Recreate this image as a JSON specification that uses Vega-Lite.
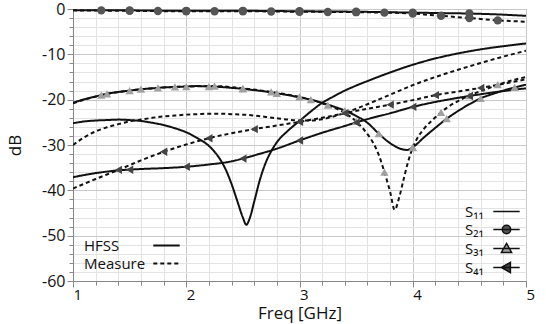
{
  "$schema": "https://vega.github.io/schema/vega-lite/v6.json",
  "width": 453,
  "height": 272,
  "autosize": {"type": "none"},
  "padding": {"left": 73, "top": 9, "right": 20, "bottom": 43},
  "background": "white",
  "config": {
    "font": "Open Sans",
    "view": {"stroke": "#999", "strokeWidth": 1},
    "axis": {"labelFont": "Open Sans", "titleFont": "Open Sans", "labelColor": "#111", "titleColor": "#111", "domainColor": "#888", "tickColor": "#888", "titleFontWeight": "normal", "labelOverlap": false}
  },
  "datasets": {
    "curves": [
      {"port":"S₁₁","src":"HFSS","f":1.0,"dB":-25.2},{"port":"S₁₁","src":"HFSS","f":1.1,"dB":-24.8},{"port":"S₁₁","src":"HFSS","f":1.2,"dB":-24.6},{"port":"S₁₁","src":"HFSS","f":1.3,"dB":-24.5},{"port":"S₁₁","src":"HFSS","f":1.4,"dB":-24.4},{"port":"S₁₁","src":"HFSS","f":1.5,"dB":-24.5},{"port":"S₁₁","src":"HFSS","f":1.6,"dB":-24.7},{"port":"S₁₁","src":"HFSS","f":1.7,"dB":-25.1},{"port":"S₁₁","src":"HFSS","f":1.8,"dB":-25.6},{"port":"S₁₁","src":"HFSS","f":1.9,"dB":-26.3},{"port":"S₁₁","src":"HFSS","f":2.0,"dB":-27.2},{"port":"S₁₁","src":"HFSS","f":2.1,"dB":-28.5},{"port":"S₁₁","src":"HFSS","f":2.2,"dB":-30.2},{"port":"S₁₁","src":"HFSS","f":2.25,"dB":-31.5},{"port":"S₁₁","src":"HFSS","f":2.3,"dB":-33.2},{"port":"S₁₁","src":"HFSS","f":2.35,"dB":-35.5},{"port":"S₁₁","src":"HFSS","f":2.4,"dB":-38.6},{"port":"S₁₁","src":"HFSS","f":2.45,"dB":-42.3},{"port":"S₁₁","src":"HFSS","f":2.5,"dB":-46.0},{"port":"S₁₁","src":"HFSS","f":2.53,"dB":-47.6},{"port":"S₁₁","src":"HFSS","f":2.56,"dB":-46.2},{"port":"S₁₁","src":"HFSS","f":2.6,"dB":-42.5},{"port":"S₁₁","src":"HFSS","f":2.65,"dB":-37.7},{"port":"S₁₁","src":"HFSS","f":2.7,"dB":-34.0},{"port":"S₁₁","src":"HFSS","f":2.75,"dB":-31.4},{"port":"S₁₁","src":"HFSS","f":2.8,"dB":-29.4},{"port":"S₁₁","src":"HFSS","f":2.9,"dB":-26.8},{"port":"S₁₁","src":"HFSS","f":3.0,"dB":-24.7},{"port":"S₁₁","src":"HFSS","f":3.1,"dB":-22.6},{"port":"S₁₁","src":"HFSS","f":3.2,"dB":-20.7},{"port":"S₁₁","src":"HFSS","f":3.3,"dB":-19.3},{"port":"S₁₁","src":"HFSS","f":3.4,"dB":-18.0},{"port":"S₁₁","src":"HFSS","f":3.5,"dB":-16.9},{"port":"S₁₁","src":"HFSS","f":3.6,"dB":-15.9},{"port":"S₁₁","src":"HFSS","f":3.8,"dB":-14.0},{"port":"S₁₁","src":"HFSS","f":4.0,"dB":-12.3},{"port":"S₁₁","src":"HFSS","f":4.2,"dB":-10.9},{"port":"S₁₁","src":"HFSS","f":4.4,"dB":-9.8},{"port":"S₁₁","src":"HFSS","f":4.6,"dB":-8.9},{"port":"S₁₁","src":"HFSS","f":4.8,"dB":-8.2},{"port":"S₁₁","src":"HFSS","f":5.0,"dB":-7.6},
      {"port":"S₁₁","src":"Measure","f":1.0,"dB":-30.0},{"port":"S₁₁","src":"Measure","f":1.1,"dB":-28.3},{"port":"S₁₁","src":"Measure","f":1.2,"dB":-27.0},{"port":"S₁₁","src":"Measure","f":1.3,"dB":-26.1},{"port":"S₁₁","src":"Measure","f":1.4,"dB":-25.4},{"port":"S₁₁","src":"Measure","f":1.5,"dB":-24.8},{"port":"S₁₁","src":"Measure","f":1.6,"dB":-24.4},{"port":"S₁₁","src":"Measure","f":1.7,"dB":-24.0},{"port":"S₁₁","src":"Measure","f":1.8,"dB":-23.7},{"port":"S₁₁","src":"Measure","f":1.9,"dB":-23.5},{"port":"S₁₁","src":"Measure","f":2.0,"dB":-23.3},{"port":"S₁₁","src":"Measure","f":2.1,"dB":-23.2},{"port":"S₁₁","src":"Measure","f":2.2,"dB":-23.1},{"port":"S₁₁","src":"Measure","f":2.3,"dB":-23.1},{"port":"S₁₁","src":"Measure","f":2.4,"dB":-23.2},{"port":"S₁₁","src":"Measure","f":2.5,"dB":-23.3},{"port":"S₁₁","src":"Measure","f":2.6,"dB":-23.5},{"port":"S₁₁","src":"Measure","f":2.7,"dB":-23.8},{"port":"S₁₁","src":"Measure","f":2.8,"dB":-24.1},{"port":"S₁₁","src":"Measure","f":2.9,"dB":-24.4},{"port":"S₁₁","src":"Measure","f":3.0,"dB":-24.6},{"port":"S₁₁","src":"Measure","f":3.1,"dB":-24.6},{"port":"S₁₁","src":"Measure","f":3.2,"dB":-24.3},{"port":"S₁₁","src":"Measure","f":3.3,"dB":-23.7},{"port":"S₁₁","src":"Measure","f":3.4,"dB":-22.9},{"port":"S₁₁","src":"Measure","f":3.5,"dB":-22.0},{"port":"S₁₁","src":"Measure","f":3.6,"dB":-21.0},{"port":"S₁₁","src":"Measure","f":3.8,"dB":-18.9},{"port":"S₁₁","src":"Measure","f":4.0,"dB":-16.8},{"port":"S₁₁","src":"Measure","f":4.2,"dB":-15.0},{"port":"S₁₁","src":"Measure","f":4.4,"dB":-13.4},{"port":"S₁₁","src":"Measure","f":4.6,"dB":-11.9},{"port":"S₁₁","src":"Measure","f":4.8,"dB":-10.5},{"port":"S₁₁","src":"Measure","f":5.0,"dB":-9.2},
      {"port":"S₂₁","src":"HFSS","f":1.0,"dB":-0.3},{"port":"S₂₁","src":"HFSS","f":1.5,"dB":-0.3},{"port":"S₂₁","src":"HFSS","f":2.0,"dB":-0.4},{"port":"S₂₁","src":"HFSS","f":2.5,"dB":-0.4},{"port":"S₂₁","src":"HFSS","f":3.0,"dB":-0.5},{"port":"S₂₁","src":"HFSS","f":3.5,"dB":-0.6},{"port":"S₂₁","src":"HFSS","f":4.0,"dB":-0.8},{"port":"S₂₁","src":"HFSS","f":4.25,"dB":-0.9},{"port":"S₂₁","src":"HFSS","f":4.5,"dB":-1.0},{"port":"S₂₁","src":"HFSS","f":4.75,"dB":-1.2},{"port":"S₂₁","src":"HFSS","f":5.0,"dB":-1.5},
      {"port":"S₂₁","src":"Measure","f":1.0,"dB":-0.3},{"port":"S₂₁","src":"Measure","f":1.5,"dB":-0.4},{"port":"S₂₁","src":"Measure","f":2.0,"dB":-0.5},{"port":"S₂₁","src":"Measure","f":2.5,"dB":-0.5},{"port":"S₂₁","src":"Measure","f":3.0,"dB":-0.6},{"port":"S₂₁","src":"Measure","f":3.5,"dB":-0.7},{"port":"S₂₁","src":"Measure","f":3.75,"dB":-0.8},{"port":"S₂₁","src":"Measure","f":4.0,"dB":-1.0},{"port":"S₂₁","src":"Measure","f":4.1,"dB":-1.2},{"port":"S₂₁","src":"Measure","f":4.25,"dB":-1.5},{"port":"S₂₁","src":"Measure","f":4.5,"dB":-2.0},{"port":"S₂₁","src":"Measure","f":4.75,"dB":-2.5},{"port":"S₂₁","src":"Measure","f":5.0,"dB":-2.8},
      {"port":"S₃₁","src":"HFSS","f":1.0,"dB":-20.7},{"port":"S₃₁","src":"HFSS","f":1.1,"dB":-19.9},{"port":"S₃₁","src":"HFSS","f":1.2,"dB":-19.3},{"port":"S₃₁","src":"HFSS","f":1.3,"dB":-18.7},{"port":"S₃₁","src":"HFSS","f":1.4,"dB":-18.3},{"port":"S₃₁","src":"HFSS","f":1.5,"dB":-18.0},{"port":"S₃₁","src":"HFSS","f":1.6,"dB":-17.7},{"port":"S₃₁","src":"HFSS","f":1.7,"dB":-17.5},{"port":"S₃₁","src":"HFSS","f":1.8,"dB":-17.3},{"port":"S₃₁","src":"HFSS","f":1.9,"dB":-17.2},{"port":"S₃₁","src":"HFSS","f":2.0,"dB":-17.1},{"port":"S₃₁","src":"HFSS","f":2.1,"dB":-17.0},{"port":"S₃₁","src":"HFSS","f":2.2,"dB":-17.1},{"port":"S₃₁","src":"HFSS","f":2.3,"dB":-17.2},{"port":"S₃₁","src":"HFSS","f":2.4,"dB":-17.4},{"port":"S₃₁","src":"HFSS","f":2.5,"dB":-17.6},{"port":"S₃₁","src":"HFSS","f":2.6,"dB":-17.9},{"port":"S₃₁","src":"HFSS","f":2.7,"dB":-18.2},{"port":"S₃₁","src":"HFSS","f":2.8,"dB":-18.6},{"port":"S₃₁","src":"HFSS","f":2.9,"dB":-19.0},{"port":"S₃₁","src":"HFSS","f":3.0,"dB":-19.5},{"port":"S₃₁","src":"HFSS","f":3.1,"dB":-20.0},{"port":"S₃₁","src":"HFSS","f":3.2,"dB":-20.7},{"port":"S₃₁","src":"HFSS","f":3.3,"dB":-21.5},{"port":"S₃₁","src":"HFSS","f":3.4,"dB":-22.4},{"port":"S₃₁","src":"HFSS","f":3.5,"dB":-23.6},{"port":"S₃₁","src":"HFSS","f":3.6,"dB":-25.1},{"port":"S₃₁","src":"HFSS","f":3.7,"dB":-27.5},{"port":"S₃₁","src":"HFSS","f":3.8,"dB":-29.6},{"port":"S₃₁","src":"HFSS","f":3.9,"dB":-30.9},{"port":"S₃₁","src":"HFSS","f":3.95,"dB":-31.1},{"port":"S₃₁","src":"HFSS","f":4.0,"dB":-30.5},{"port":"S₃₁","src":"HFSS","f":4.1,"dB":-28.3},{"port":"S₃₁","src":"HFSS","f":4.2,"dB":-26.2},{"port":"S₃₁","src":"HFSS","f":4.3,"dB":-24.2},{"port":"S₃₁","src":"HFSS","f":4.4,"dB":-22.5},{"port":"S₃₁","src":"HFSS","f":4.5,"dB":-21.0},{"port":"S₃₁","src":"HFSS","f":4.6,"dB":-19.7},{"port":"S₃₁","src":"HFSS","f":4.7,"dB":-18.8},{"port":"S₃₁","src":"HFSS","f":4.8,"dB":-18.0},{"port":"S₃₁","src":"HFSS","f":4.9,"dB":-17.3},{"port":"S₃₁","src":"HFSS","f":5.0,"dB":-16.7},
      {"port":"S₃₁","src":"Measure","f":1.0,"dB":-20.8},{"port":"S₃₁","src":"Measure","f":1.25,"dB":-19.0},{"port":"S₃₁","src":"Measure","f":1.5,"dB":-18.0},{"port":"S₃₁","src":"Measure","f":1.75,"dB":-17.4},{"port":"S₃₁","src":"Measure","f":2.0,"dB":-17.1},{"port":"S₃₁","src":"Measure","f":2.25,"dB":-17.0},{"port":"S₃₁","src":"Measure","f":2.5,"dB":-17.5},{"port":"S₃₁","src":"Measure","f":2.75,"dB":-18.3},{"port":"S₃₁","src":"Measure","f":3.0,"dB":-19.4},{"port":"S₃₁","src":"Measure","f":3.1,"dB":-20.0},{"port":"S₃₁","src":"Measure","f":3.2,"dB":-20.8},{"port":"S₃₁","src":"Measure","f":3.3,"dB":-21.7},{"port":"S₃₁","src":"Measure","f":3.4,"dB":-22.9},{"port":"S₃₁","src":"Measure","f":3.5,"dB":-24.8},{"port":"S₃₁","src":"Measure","f":3.6,"dB":-27.6},{"port":"S₃₁","src":"Measure","f":3.65,"dB":-29.5},{"port":"S₃₁","src":"Measure","f":3.7,"dB":-32.2},{"port":"S₃₁","src":"Measure","f":3.75,"dB":-36.0},{"port":"S₃₁","src":"Measure","f":3.8,"dB":-40.3},{"port":"S₃₁","src":"Measure","f":3.84,"dB":-44.3},{"port":"S₃₁","src":"Measure","f":3.88,"dB":-41.6},{"port":"S₃₁","src":"Measure","f":3.92,"dB":-37.5},{"port":"S₃₁","src":"Measure","f":3.96,"dB":-33.6},{"port":"S₃₁","src":"Measure","f":4.0,"dB":-30.6},{"port":"S₃₁","src":"Measure","f":4.05,"dB":-28.1},{"port":"S₃₁","src":"Measure","f":4.1,"dB":-26.4},{"port":"S₃₁","src":"Measure","f":4.2,"dB":-23.9},{"port":"S₃₁","src":"Measure","f":4.3,"dB":-21.8},{"port":"S₃₁","src":"Measure","f":4.4,"dB":-20.3},{"port":"S₃₁","src":"Measure","f":4.5,"dB":-19.1},{"port":"S₃₁","src":"Measure","f":4.6,"dB":-18.1},{"port":"S₃₁","src":"Measure","f":4.7,"dB":-17.2},{"port":"S₃₁","src":"Measure","f":4.8,"dB":-16.3},{"port":"S₃₁","src":"Measure","f":4.9,"dB":-15.6},{"port":"S₃₁","src":"Measure","f":5.0,"dB":-15.0},
      {"port":"S₄₁","src":"HFSS","f":1.0,"dB":-37.1},{"port":"S₄₁","src":"HFSS","f":1.2,"dB":-36.2},{"port":"S₄₁","src":"HFSS","f":1.4,"dB":-35.6},{"port":"S₄₁","src":"HFSS","f":1.6,"dB":-35.3},{"port":"S₄₁","src":"HFSS","f":1.8,"dB":-35.1},{"port":"S₄₁","src":"HFSS","f":2.0,"dB":-34.8},{"port":"S₄₁","src":"HFSS","f":2.2,"dB":-34.3},{"port":"S₄₁","src":"HFSS","f":2.4,"dB":-33.6},{"port":"S₄₁","src":"HFSS","f":2.5,"dB":-33.0},{"port":"S₄₁","src":"HFSS","f":2.6,"dB":-32.3},{"port":"S₄₁","src":"HFSS","f":2.8,"dB":-30.8},{"port":"S₄₁","src":"HFSS","f":3.0,"dB":-29.0},{"port":"S₄₁","src":"HFSS","f":3.2,"dB":-27.3},{"port":"S₄₁","src":"HFSS","f":3.4,"dB":-25.8},{"port":"S₄₁","src":"HFSS","f":3.6,"dB":-24.3},{"port":"S₄₁","src":"HFSS","f":3.8,"dB":-23.0},{"port":"S₄₁","src":"HFSS","f":4.0,"dB":-21.6},{"port":"S₄₁","src":"HFSS","f":4.2,"dB":-20.5},{"port":"S₄₁","src":"HFSS","f":4.4,"dB":-19.6},{"port":"S₄₁","src":"HFSS","f":4.6,"dB":-18.8},{"port":"S₄₁","src":"HFSS","f":4.8,"dB":-18.1},{"port":"S₄₁","src":"HFSS","f":5.0,"dB":-17.5},
      {"port":"S₄₁","src":"Measure","f":1.0,"dB":-39.6},{"port":"S₄₁","src":"Measure","f":1.2,"dB":-37.5},{"port":"S₄₁","src":"Measure","f":1.4,"dB":-35.5},{"port":"S₄₁","src":"Measure","f":1.6,"dB":-33.4},{"port":"S₄₁","src":"Measure","f":1.8,"dB":-31.5},{"port":"S₄₁","src":"Measure","f":2.0,"dB":-29.9},{"port":"S₄₁","src":"Measure","f":2.2,"dB":-28.5},{"port":"S₄₁","src":"Measure","f":2.4,"dB":-27.4},{"port":"S₄₁","src":"Measure","f":2.6,"dB":-26.5},{"port":"S₄₁","src":"Measure","f":2.8,"dB":-25.7},{"port":"S₄₁","src":"Measure","f":3.0,"dB":-24.9},{"port":"S₄₁","src":"Measure","f":3.2,"dB":-24.0},{"port":"S₄₁","src":"Measure","f":3.4,"dB":-23.0},{"port":"S₄₁","src":"Measure","f":3.6,"dB":-22.0},{"port":"S₄₁","src":"Measure","f":3.8,"dB":-21.1},{"port":"S₄₁","src":"Measure","f":4.0,"dB":-20.1},{"port":"S₄₁","src":"Measure","f":4.2,"dB":-19.0},{"port":"S₄₁","src":"Measure","f":4.4,"dB":-18.2},{"port":"S₄₁","src":"Measure","f":4.6,"dB":-17.4},{"port":"S₄₁","src":"Measure","f":4.8,"dB":-16.5},{"port":"S₄₁","src":"Measure","f":5.0,"dB":-15.5}
    ],
    "markers": [
      {"port":"S₂₁","src":"HFSS","f":1.5,"dB":-0.3},{"port":"S₂₁","src":"HFSS","f":2.0,"dB":-0.4},{"port":"S₂₁","src":"HFSS","f":2.5,"dB":-0.4},{"port":"S₂₁","src":"HFSS","f":3.0,"dB":-0.5},{"port":"S₂₁","src":"HFSS","f":3.5,"dB":-0.6},{"port":"S₂₁","src":"HFSS","f":4.0,"dB":-0.8},{"port":"S₂₁","src":"HFSS","f":4.5,"dB":-1.0},
      {"port":"S₂₁","src":"Measure","f":1.25,"dB":-0.3},{"port":"S₂₁","src":"Measure","f":1.5,"dB":-0.4},{"port":"S₂₁","src":"Measure","f":1.75,"dB":-0.45},{"port":"S₂₁","src":"Measure","f":2.0,"dB":-0.5},{"port":"S₂₁","src":"Measure","f":2.25,"dB":-0.5},{"port":"S₂₁","src":"Measure","f":2.5,"dB":-0.5},{"port":"S₂₁","src":"Measure","f":2.75,"dB":-0.55},{"port":"S₂₁","src":"Measure","f":3.0,"dB":-0.6},{"port":"S₂₁","src":"Measure","f":3.25,"dB":-0.65},{"port":"S₂₁","src":"Measure","f":3.5,"dB":-0.7},{"port":"S₂₁","src":"Measure","f":3.75,"dB":-0.8},{"port":"S₂₁","src":"Measure","f":4.0,"dB":-1.0},{"port":"S₂₁","src":"Measure","f":4.25,"dB":-1.5},{"port":"S₂₁","src":"Measure","f":4.5,"dB":-2.0},{"port":"S₂₁","src":"Measure","f":4.75,"dB":-2.5},
      {"port":"S₃₁","src":"HFSS","f":1.3,"dB":-18.7},{"port":"S₃₁","src":"HFSS","f":1.6,"dB":-17.7},{"port":"S₃₁","src":"HFSS","f":1.9,"dB":-17.2},{"port":"S₃₁","src":"HFSS","f":2.2,"dB":-17.1},{"port":"S₃₁","src":"HFSS","f":2.5,"dB":-17.6},{"port":"S₃₁","src":"HFSS","f":2.8,"dB":-18.6},{"port":"S₃₁","src":"HFSS","f":3.1,"dB":-20.0},{"port":"S₃₁","src":"HFSS","f":3.4,"dB":-22.4},{"port":"S₃₁","src":"HFSS","f":3.7,"dB":-27.5},{"port":"S₃₁","src":"HFSS","f":4.0,"dB":-30.5},{"port":"S₃₁","src":"HFSS","f":4.3,"dB":-24.2},{"port":"S₃₁","src":"HFSS","f":4.6,"dB":-19.7},{"port":"S₃₁","src":"HFSS","f":4.9,"dB":-17.3},
      {"port":"S₃₁","src":"Measure","f":1.25,"dB":-19.0},{"port":"S₃₁","src":"Measure","f":1.5,"dB":-18.0},{"port":"S₃₁","src":"Measure","f":1.75,"dB":-17.4},{"port":"S₃₁","src":"Measure","f":2.0,"dB":-17.1},{"port":"S₃₁","src":"Measure","f":2.25,"dB":-17.0},{"port":"S₃₁","src":"Measure","f":2.5,"dB":-17.5},{"port":"S₃₁","src":"Measure","f":2.75,"dB":-18.3},{"port":"S₃₁","src":"Measure","f":3.0,"dB":-19.4},{"port":"S₃₁","src":"Measure","f":3.25,"dB":-21.2},{"port":"S₃₁","src":"Measure","f":3.5,"dB":-24.8},{"port":"S₃₁","src":"Measure","f":3.75,"dB":-36.0},{"port":"S₃₁","src":"Measure","f":4.0,"dB":-30.6},{"port":"S₃₁","src":"Measure","f":4.25,"dB":-22.8},{"port":"S₃₁","src":"Measure","f":4.5,"dB":-19.1},{"port":"S₃₁","src":"Measure","f":4.75,"dB":-16.7},
      {"port":"S₄₁","src":"HFSS","f":1.5,"dB":-35.45},{"port":"S₄₁","src":"HFSS","f":2.0,"dB":-34.8},{"port":"S₄₁","src":"HFSS","f":2.5,"dB":-33.0},{"port":"S₄₁","src":"HFSS","f":3.0,"dB":-29.0},{"port":"S₄₁","src":"HFSS","f":3.5,"dB":-25.05},{"port":"S₄₁","src":"HFSS","f":4.0,"dB":-21.6},{"port":"S₄₁","src":"HFSS","f":4.5,"dB":-19.2},
      {"port":"S₄₁","src":"Measure","f":1.4,"dB":-35.5},{"port":"S₄₁","src":"Measure","f":1.8,"dB":-31.5},{"port":"S₄₁","src":"Measure","f":2.2,"dB":-28.5},{"port":"S₄₁","src":"Measure","f":2.6,"dB":-26.5},{"port":"S₄₁","src":"Measure","f":3.0,"dB":-24.9},{"port":"S₄₁","src":"Measure","f":3.4,"dB":-23.0},{"port":"S₄₁","src":"Measure","f":3.8,"dB":-21.1},{"port":"S₄₁","src":"Measure","f":4.2,"dB":-19.0},{"port":"S₄₁","src":"Measure","f":4.6,"dB":-17.4}
    ]
  },
  "encoding": {
    "x": {
      "field": "f", "type": "quantitative",
      "scale": {"domain": [1, 5], "nice": false, "zero": false},
      "axis": {
        "title": "Freq [GHz]", "titleFontSize": 17, "titlePadding": 3,
        "values": [1,1.2,1.4,1.6,1.8,2,2.2,2.4,2.6,2.8,3,3.2,3.4,3.6,3.8,4,4.2,4.4,4.6,4.8,5],
        "labelExpr": "datum.value % 1 === 0 ? '' + datum.value : ''",
        "labelAlign": "left", "labelFlush": false, "labelFontSize": 15, "labelPadding": 0,
        "tickSize": {"condition": {"test": "datum.value % 1 === 0", "value": 6}, "value": 4},
        "gridColor": {"condition": {"test": "datum.value % 1 === 0", "value": "#c9c9c9"}, "value": "#e3e3e3"}
      }
    },
    "y": {
      "field": "dB", "type": "quantitative",
      "scale": {"domain": [-60, 0], "nice": false},
      "axis": {
        "title": "dB", "titleFontSize": 17, "titlePadding": 17,
        "values": [-60,-58,-56,-54,-52,-50,-48,-46,-44,-42,-40,-38,-36,-34,-32,-30,-28,-26,-24,-22,-20,-18,-16,-14,-12,-10,-8,-6,-4,-2,0],
        "labelExpr": "datum.value % 10 === 0 ? '' + datum.value : ''",
        "labelFontSize": 16, "labelPadding": 2,
        "tickSize": {"condition": {"test": "datum.value % 10 === 0", "value": 6}, "value": 4},
        "gridColor": {"condition": {"test": "datum.value % 10 === 0", "value": "#c9c9c9"}, "value": "#e3e3e3"}
      }
    }
  },
  "resolve": {"scale": {"shape": "independent", "fill": "independent"}},
  "layer": [
    {
      "data": {"name": "curves"},
      "mark": {"type": "line", "interpolate": "monotone", "strokeWidth": 2, "clip": true, "color": "#111"},
      "encoding": {
        "detail": {"field": "port", "type": "nominal"},
        "strokeDash": {
          "field": "src", "type": "nominal",
          "scale": {"domain": ["HFSS", "Measure"], "range": [[1, 0], [4, 3]]},
          "legend": {
            "title": null, "orient": "none", "legendX": 8, "legendY": 229, "padding": 0,
            "direction": "vertical", "symbolType": "M-2.2,0H2.2", "symbolSize": 144,
            "symbolStrokeWidth": 2, "symbolStrokeColor": "#111",
            "labelFont": "Open Sans", "labelFontSize": 15, "labelColor": "#111",
            "labelOffset": -90, "symbolOffset": 78, "rowPadding": 2
          }
        }
      }
    },
    {
      "data": {"name": "markers"},
      "mark": {"type": "point", "filled": true, "opacity": 1, "size": 70},
      "encoding": {
        "shape": {
          "field": "port", "type": "nominal",
          "scale": {"domain": ["S₂₁","S₃₁","S₄₁"], "range": ["circle", "triangle-up", "triangle-left"]},
          "legend": null
        },
        "fill": {
          "field": "port", "type": "nominal",
          "scale": {"domain": ["S₂₁","S₃₁","S₄₁"], "range": ["#555555", "#a0a0a0", "#444444"]},
          "legend": null
        }
      }
    },
    {
      "data": {"name": "markers"},
      "transform": [{"filter": "false"}],
      "mark": {"type": "point", "filled": true, "opacity": 1, "stroke": "#111", "strokeWidth": 2},
      "encoding": {
        "shape": {
          "field": "port", "type": "nominal",
          "scale": {"domain": ["S₁₁","S₂₁","S₃₁","S₄₁"], "range": ["M-2.2,0H2.2", "M-2.2,0H2.2M-0.7,0A0.7,0.7,0,1,0,0.7,0A0.7,0.7,0,1,0,-0.7,0Z", "M-2.2,0H2.2M0,-0.85L0.85,0.65L-0.85,0.65Z", "M-2.2,0H2.2M-0.85,0L0.65,-0.85L0.65,0.85Z"]},
          "legend": {
            "title": null, "orient": "none", "legendX": 389, "legendY": 195, "padding": 0,
            "direction": "vertical", "symbolSize": 144,
            "labelFont": "Open Sans", "labelFontSize": 15, "labelColor": "#111",
            "labelOffset": -49, "symbolOffset": 37, "rowPadding": 2
          }
        },
        "fill": {
          "field": "port", "type": "nominal",
          "scale": {"domain": ["S₁₁","S₂₁","S₃₁","S₄₁"], "range": ["#111111", "#555555", "#a0a0a0", "#444444"]},
          "legend": {
            "title": null, "orient": "none", "legendX": 389, "legendY": 195, "padding": 0,
            "direction": "vertical", "symbolSize": 144,
            "labelFont": "Open Sans", "labelFontSize": 15, "labelColor": "#111",
            "labelOffset": -49, "symbolOffset": 37, "rowPadding": 2
          }
        }
      }
    }
  ]
}
